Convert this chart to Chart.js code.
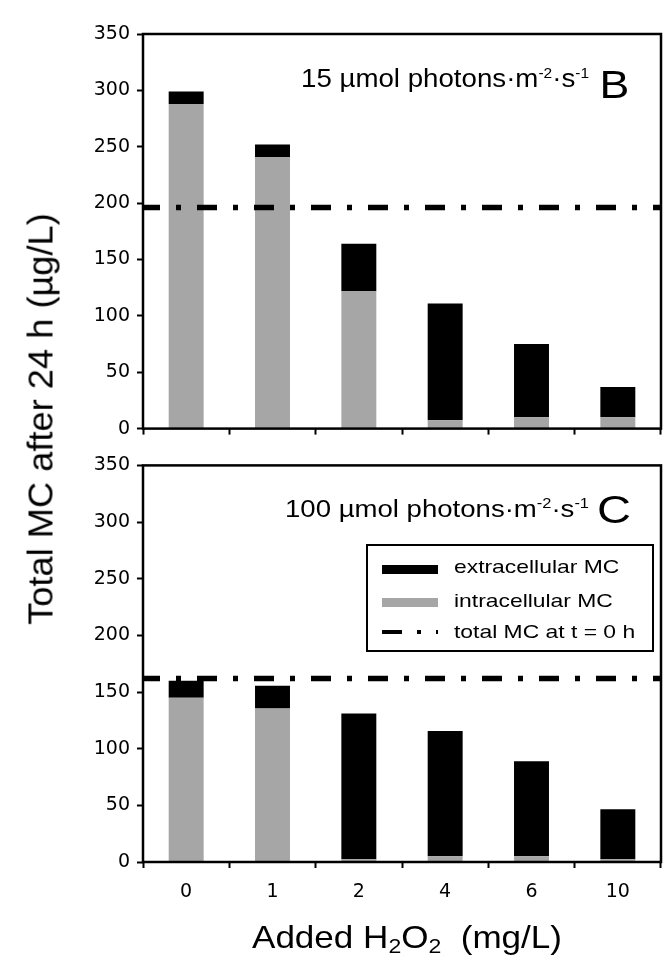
<!DOCTYPE html>
<html>
<head>
<meta charset="utf-8">
<title>Total MC after 24 h</title>
<script src="https://cdn.jsdelivr.net/npm/chart.js@4.4.1/dist/chart.umd.min.js"></script>
<style>
  html, body { margin: 0; padding: 0; background: #fff; }
  #page { position: relative; width: 668px; height: 957px; overflow: hidden; }
  canvas { position: absolute; left: 0; }
  #chartLow { top: 0; }
  #chartHigh { top: 447px; }
  #yTitle {
    position: absolute; left: 40px; top: 419px;
    font: 35px "Liberation Sans", Arial, sans-serif; line-height: 35px;
    white-space: nowrap; color: #000;
  }
</style>
</head>
<body>
<div id="page">
  <canvas id="chartLow" width="668" height="447"></canvas>
  <canvas id="chartHigh" width="668" height="510"></canvas>
  <div id="yTitle">Total MC after 24 h (µg/L)</div>
</div>
<script>
const TEXT_FONT = '"Liberation Sans", Arial, sans-serif';
const TICK_FONT = '"DejaVu Sans", Verdana, sans-serif';

const doses = ['0', '1', '2', '4', '6', '10'];
const mcTicks = [0, 50, 100, 150, 200, 250, 300, 350];
const seriesLabels = ['intracellular MC', 'extracellular MC', 'total MC at t = 0 h'];

// 15 µmol photons
const intraLow = [288, 241, 122, 7.5, 10, 10];
const extraLow = [11, 11, 42, 103.5, 65, 27];
const startLow = 196;

// 100 µmol photons
const intraHigh = [145, 135.5, 2.5, 5, 5, 2.5];
const extraHigh = [15, 20, 128.5, 110.5, 84, 44];
const startHigh = 162;

const GREY = '#a6a6a6';
const DASH = [20, 16, 5, 16];
const LEGEND_DASH = [20, 15, 4, 15];

// draw a row of text pieces (super/subscripts) stretched to a given width
function drawRuns(ctx, runs, x, baseline, width, stretch) {
    ctx.save();
    ctx.fillStyle = '#000';
    ctx.textAlign = 'left';
    ctx.textBaseline = 'alphabetic';
    let natural = 0;
    runs.forEach(r => {
        ctx.font = `${r.size}px ${TEXT_FONT}`;
        natural += ctx.measureText(r.text).width;
    });
    const sx = width ? width / natural : (stretch || 1);
    ctx.translate(x, baseline);
    ctx.scale(sx, 1);
    let cx = 0;
    runs.forEach(r => {
        ctx.font = `${r.size}px ${TEXT_FONT}`;
        ctx.fillText(r.text, cx, r.dy || 0);
        cx += ctx.measureText(r.text).width;
    });
    ctx.restore();
}

// horizontal dash-dot line for the MC level at t = 0, across the whole plot
const startLinePlugin = {
    id: 'startLine',
    afterDatasetsDraw(chart, args, o) {
        const { ctx, chartArea: a, scales } = chart;
        const y = scales.y.getPixelForValue(o.value);
        ctx.save();
        ctx.strokeStyle = '#000';
        ctx.lineWidth = o.width;
        ctx.setLineDash(o.dash);
        ctx.lineDashOffset = 2;
        ctx.beginPath();
        ctx.moveTo(a.left - 1, y);
        ctx.lineTo(a.right, y);
        ctx.stroke();
        ctx.restore();
    }
};

const framePlugin = {
    id: 'frame',
    afterDraw(chart) {
        const { ctx, chartArea: a } = chart;
        ctx.save();
        ctx.strokeStyle = '#000';
        ctx.lineWidth = 2.5;
        ctx.strokeRect(a.left, a.top, a.right - a.left, a.bottom - a.top);
        ctx.restore();
    }
};

const notePlugin = {
    id: 'panelNote',
    afterDraw(chart, args, o) {
        const ctx = chart.ctx;
        (o.texts || []).forEach(t => drawRuns(ctx, t.runs, t.x, t.baseline, t.width));
    }
};

const legendPlugin = {
    id: 'mcLegend',
    afterDraw(chart, args, o) {
        if (!o.box) return;
        const ctx = chart.ctx;
        const ds = chart.data.datasets;
        const items = [
            { label: ds[1].label, color: ds[1].backgroundColor },
            { label: ds[0].label, color: ds[0].backgroundColor },
            { label: seriesLabels[2], dash: LEGEND_DASH }
        ];
        const b = o.box;
        ctx.save();
        ctx.fillStyle = '#fff';
        ctx.fillRect(b.left, b.top, b.right - b.left, b.bottom - b.top);
        ctx.strokeStyle = '#000';
        ctx.lineWidth = 2;
        ctx.strokeRect(b.left, b.top, b.right - b.left, b.bottom - b.top);
        items.forEach((d, i) => {
            const cy = o.rows[i];
            if (d.dash) {
                ctx.strokeStyle = '#000';
                ctx.lineWidth = 4;
                ctx.setLineDash(d.dash);
                ctx.beginPath();
                ctx.moveTo(o.swatchX, cy);
                ctx.lineTo(o.swatchX + o.swatchW, cy);
                ctx.stroke();
                ctx.setLineDash([]);
            } else {
                ctx.fillStyle = d.color;
                ctx.fillRect(o.swatchX, cy - 4.5, o.swatchW, 9);
            }
            drawRuns(ctx, [{ text: d.label, size: o.fontSize }], o.textX, o.baselines[i], null, o.stretch);
        });
        ctx.restore();
    }
};

function makeChart(id, intra, extra, start, cfg) {
    return new Chart(document.getElementById(id), {
        type: 'bar',
        data: {
            labels: doses,
            datasets: [
                {
                    label: seriesLabels[0], data: intra, backgroundColor: GREY,
                    barPercentage: 0.405, categoryPercentage: 1, borderWidth: 0
                },
                {
                    label: seriesLabels[1], data: extra, backgroundColor: '#000',
                    barPercentage: 0.405, categoryPercentage: 1, borderWidth: 0
                }
            ]
        },
        options: {
            responsive: false,
            animation: false,
            events: [],
            layout: { padding: { top: cfg.padTop, right: 7, bottom: 0, left: 0 } },
            scales: {
                x: {
                    stacked: true,
                    grid: { offset: true, drawOnChartArea: false, drawTicks: true, tickLength: 6, tickWidth: 2, tickColor: '#000' },
                    border: { display: false },
                    ticks: {
                        display: cfg.showDoses, color: '#000', padding: 13,
                        maxRotation: 0, autoSkip: false,
                        font: { family: TICK_FONT, size: 19 }
                    },
                    afterFit: s => { s.height = cfg.xHeight; }
                },
                y: {
                    stacked: true, min: mcTicks[0], max: mcTicks[mcTicks.length - 1],
                    grid: { drawOnChartArea: false, drawTicks: true, tickLength: 6, tickWidth: 2, tickColor: '#000' },
                    border: { display: false },
                    ticks: { color: '#000', padding: 7, font: { family: TICK_FONT, size: 19 } },
                    afterBuildTicks: s => { s.ticks = mcTicks.map(v => ({ value: v })); },
                    afterFit: s => { s.width = 143; }
                }
            },
            plugins: {
                legend: { display: false },
                tooltip: { enabled: false },
                startLine: { value: start, dash: DASH, width: 5.5 },
                panelNote: { texts: cfg.texts },
                mcLegend: cfg.legend || {}
            }
        },
        plugins: [startLinePlugin, framePlugin, notePlugin, legendPlugin]
    });
}

makeChart('chartLow', intraLow, extraLow, startLow, {
    padTop: 34, xHeight: 15, showDoses: false,
    texts: [
        {
            x: 301, baseline: 87, width: 288,
            runs: [
                { text: '15 µmol photons·m', size: 25 },
                { text: '-2', size: 14, dy: -9 },
                { text: '·s', size: 25 },
                { text: '-1', size: 14, dy: -9 }
            ]
        },
        { x: 599.5, baseline: 98.3, width: 29.8, runs: [{ text: 'B', size: 39.5 }] }
    ]
});

makeChart('chartHigh', intraHigh, extraHigh, startHigh, {
    padTop: 15, xHeight: 95, showDoses: true,
    texts: [
        {
            x: 285, baseline: 70.3, width: 304,
            runs: [
                { text: '100 µmol photons·m', size: 23.5 },
                { text: '-2', size: 14, dy: -9 },
                { text: '·s', size: 23.5 },
                { text: '-1', size: 14, dy: -9 }
            ]
        },
        { x: 597, baseline: 75.5, width: 34, runs: [{ text: 'C', size: 38 }] },
        {
            x: 252, baseline: 501.3, width: 310,
            runs: [
                { text: 'Added H', size: 32 },
                { text: '2', size: 21, dy: 5 },
                { text: 'O', size: 32 },
                { text: '2', size: 21, dy: 5 },
                { text: '  (mg/L)', size: 32 }
            ]
        }
    ],
    legend: {
        box: { left: 367, top: 98, right: 653, bottom: 204 },
        swatchX: 382, swatchW: 56,
        rows: [122.5, 155.5, 185],
        textX: 454, baselines: [126.3, 159.7, 191.3],
        fontSize: 18.6, stretch: 1.23
    }
});

const yTitle = document.getElementById('yTitle');
yTitle.style.transform = `translate(-50%, -50%) rotate(-90deg) scaleX(${412 / yTitle.offsetWidth})`;
</script>
</body>
</html>
